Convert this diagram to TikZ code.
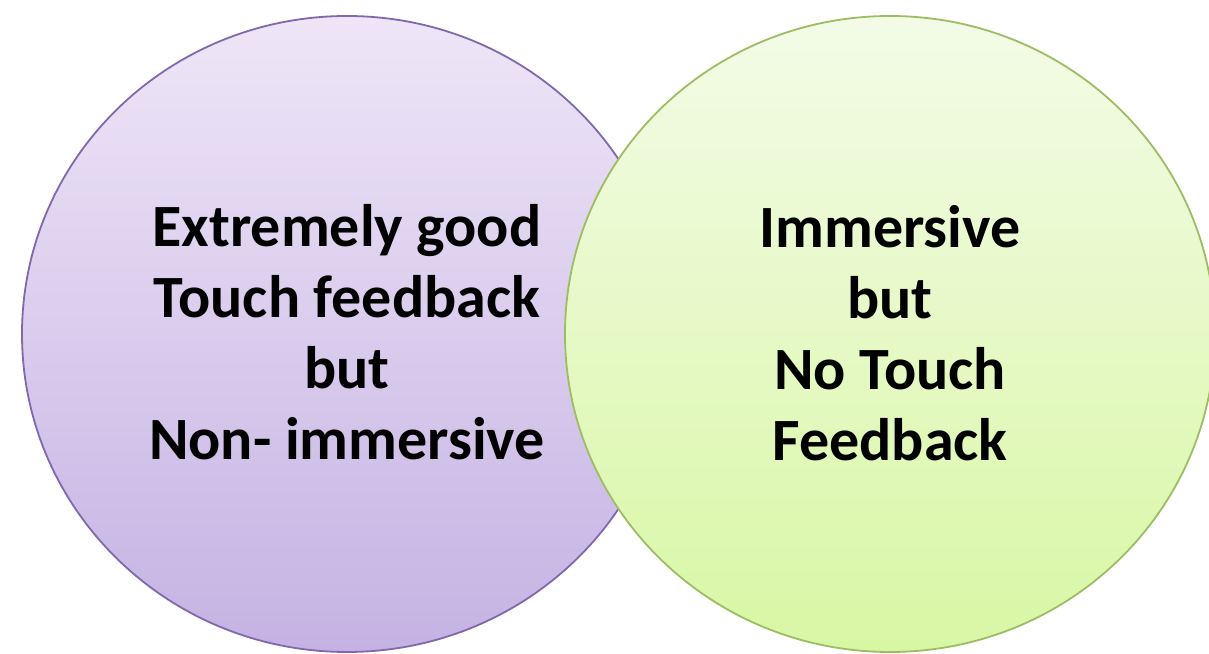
\documentclass[tikz,border=0pt]{standalone}
\usepackage{fontspec}
\setmainfont{Carlito}
\usetikzlibrary{shapes.geometric}
\definecolor{purpleline}{HTML}{7F68AE}
\definecolor{purpletop}{HTML}{EEE6F7}
\definecolor{purplebot}{HTML}{C5B2E3}
\definecolor{greenline}{HTML}{9CBD62}
\definecolor{greentop}{HTML}{F3FBE7}
\definecolor{greenbot}{HTML}{D8F7A4}
\tikzset{
  venn/.style={ellipse, inner sep=0pt, minimum width=650pt, minimum height=636pt, line width=1.8pt},
  purplecircle/.style={venn, draw=purpleline, top color=purpletop, bottom color=purplebot},
  greencircle/.style={venn, draw=greenline, top color=greentop, bottom color=greenbot},
  label/.style={align=center, font=\bfseries\fontsize{60}{71}\selectfont, text=black, inner sep=0pt}
}
\begin{document}
\begin{tikzpicture}[x=1pt,y=1pt]
\useasboundingbox (0,0) rectangle (1209,653);
\clip (0,0) rectangle (1209,653);
\node[purplecircle] (lc) at (347,319) {};
\node[greencircle] (rc) at (890,319) {};
\node[label] (lt) at (347,321) {Extremely good\\Touch feedback\\but\\Non- immersive};
\node[label] (rt) at (890,320) {Immersive\\but\\No Touch\\Feedback};
\end{tikzpicture}
\end{document}
